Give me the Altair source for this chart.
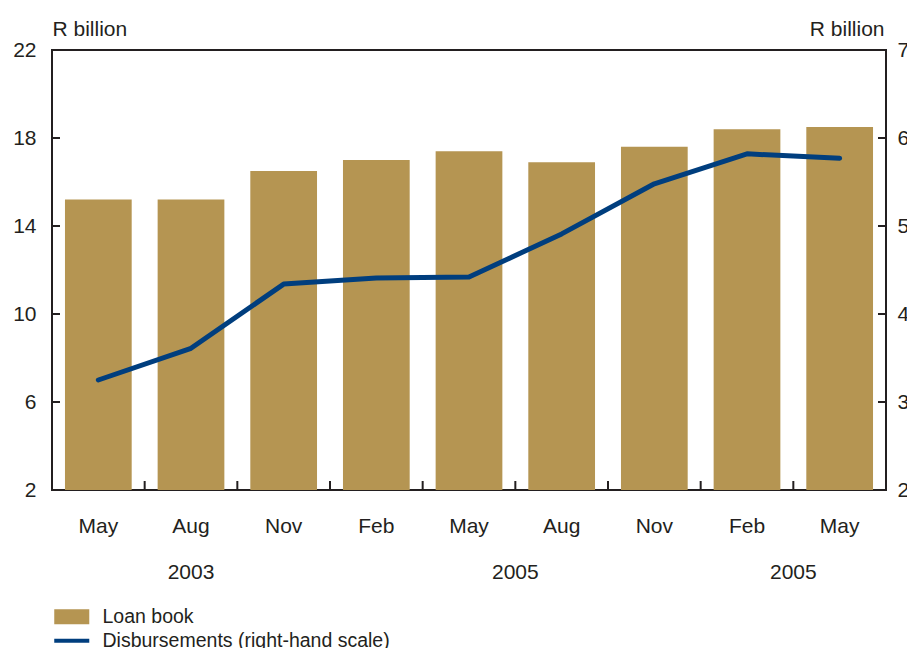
import altair as alt
import pandas as pd

# --- data ---
categories = ["May-03", "Aug-03", "Nov-03", "Feb-04", "May-04", "Aug-04", "Nov-04", "Feb-05", "May-05"]
loan_book = [15.2, 15.2, 16.5, 17.0, 17.4, 16.9, 17.6, 18.4, 18.5]
disbursements = [3.25, 3.61, 4.34, 4.41, 4.42, 4.91, 5.48, 5.82, 5.77]
left_ticks = [2, 6, 10, 14, 18, 22]
right_ticks = [2, 3, 4, 5, 6, 7]
year_centered = [("Aug-03", "2003")]
year_boundary = [("Aug-04", "2005"), ("May-05", "2005")]
series_names = ["Loan book", "Disbursements (right-hand scale)"]

GOLD = "#B59552"
BLUE = "#003E7E"
INK = "#231F20"
FONT = "Liberation Sans"
FS = 21
W, H = 834, 440
PAD_IN = 0.28
EDGE_SHIFT = -(PAD_IN / 2) * W / len(categories)   # from bar start back to step boundary
RECT = "M-1,-1H3.67V1H-1Z"
BAR = "M-1,-0.27H3.67V0.27H-1Z"

df = pd.DataFrame({"cat": categories, "loan": loan_book, "disb": disbursements})
lt = pd.DataFrame({"v": left_ticks[1:-1]})
rt = pd.DataFrame({"v": right_ticks[1:-1]})
bt = pd.DataFrame({"cat": categories[1:]})
yc = pd.DataFrame(year_centered, columns=["cat", "year"])
yb = pd.DataFrame(year_boundary, columns=["cat", "year"])
lg = pd.DataFrame({"series": series_names})

xscale = alt.Scale(domain=categories, paddingInner=PAD_IN, paddingOuter=PAD_IN / 2)
xenc = alt.X("cat:N", scale=xscale, sort=categories,
             axis=alt.Axis(title=None, labelExpr="split(datum.label, '-')[0]",
                           labelAngle=0, ticks=False, domain=False,
                           labelPadding=25, labelFontSize=FS, labelColor=INK,
                           labelFont=FONT))
lscale = alt.Scale(domain=[2, 22], nice=False, zero=False)
rscale = alt.Scale(domain=[2, 7], nice=False, zero=False)

legend = alt.Legend(
    orient="none", legendX=0, legendY=557, title=None,
    symbolSize=225, symbolStrokeWidth=0, symbolOpacity=1,
    labelFontSize=19.5, labelFont=FONT, labelColor=INK, labelOffset=31,
    labelLimit=500, rowPadding=3,
)

bars = alt.Chart(df).mark_bar(color=GOLD, clip=True).encode(
    x=xenc,
    y=alt.Y("loan:Q", scale=lscale,
            axis=alt.Axis(values=left_ticks, orient="left", title="R billion",
                          titleAngle=0, titleAlign="left", titleX=0, titleY=-15,
                          titleBaseline="alphabetic", titleFontSize=FS,
                          titleFontWeight="normal", titleFont=FONT, titleColor=INK,
                          ticks=False, domain=False, grid=False,
                          labelFontSize=FS, labelFont=FONT, labelColor=INK,
                          labelPadding=16)),
)

lticks = alt.Chart(lt).mark_rule(color=INK, strokeWidth=2).encode(
    y=alt.Y("v:Q", scale=lscale, axis=None),
    x=alt.value(0), x2=alt.value(8),
)

line = alt.Chart(df).mark_line(color=BLUE, strokeWidth=5, strokeCap="round",
                               strokeJoin="round").encode(
    x=alt.X("cat:N", scale=xscale, sort=categories),
    y=alt.Y("disb:Q", scale=rscale,
            axis=alt.Axis(values=right_ticks, orient="right", title="R billion",
                          titleAngle=0, titleAlign="right", titleX=-2, titleY=-15,
                          titleBaseline="alphabetic", titleFontSize=FS,
                          titleFontWeight="normal", titleFont=FONT, titleColor=INK,
                          ticks=False, domain=False, grid=False,
                          labelFontSize=FS, labelFont=FONT, labelColor=INK,
                          labelPadding=11)),
)

rticks = alt.Chart(rt).mark_rule(color=INK, strokeWidth=2).encode(
    y=alt.Y("v:Q", scale=rscale, axis=None),
    x=alt.value(W - 8), x2=alt.value(W),
)

bticks = alt.Chart(bt).mark_rule(color=INK, strokeWidth=2, xOffset=EDGE_SHIFT).encode(
    x=alt.X("cat:N", scale=xscale, sort=categories, bandPosition=0),
    y=alt.value(H - 9), y2=alt.value(H),
)

ytext1 = alt.Chart(yc).mark_text(fontSize=FS, font=FONT, color=INK, baseline="middle").encode(
    x=alt.X("cat:N", scale=xscale, sort=categories, bandPosition=0.5),
    y=alt.value(H + 83), text="year:N",
)
ytext2 = alt.Chart(yb).mark_text(fontSize=FS, font=FONT, color=INK, baseline="middle",
                                 dx=EDGE_SHIFT).encode(
    x=alt.X("cat:N", scale=xscale, sort=categories, bandPosition=0),
    y=alt.value(H + 83), text="year:N",
)

legend_layer = alt.Chart(lg).mark_point(filled=True, opacity=1, size=225).encode(
    x=alt.value(-2000), y=alt.value(-2000),
    color=alt.Color("series:N", sort=series_names,
                    scale=alt.Scale(domain=series_names, range=[GOLD, BLUE]),
                    legend=legend),
    shape=alt.Shape("series:N", sort=series_names,
                    scale=alt.Scale(domain=series_names, range=[RECT, BAR]),
                    legend=legend),
)

chart = alt.layer(bars, lticks, line, rticks, bticks, ytext1, ytext2, legend_layer).resolve_scale(
    y="independent"
).properties(
    width=W, height=H,
    autosize=alt.AutoSizeParams(type="none"),
    padding={"left": 52, "top": 50, "right": 21, "bottom": 158},
    background="white",
).configure_view(stroke=INK, strokeWidth=2)

chart.save("out.html", embed_options={"renderer": "svg", "actions": False})
